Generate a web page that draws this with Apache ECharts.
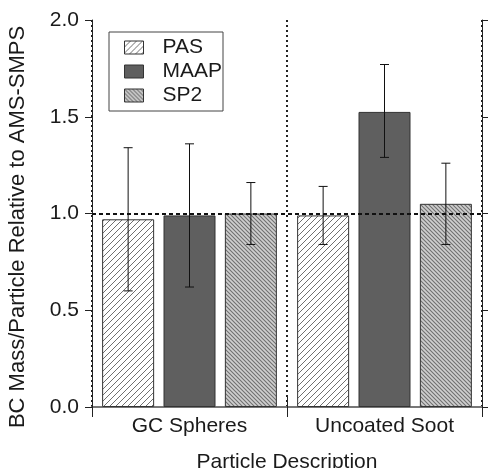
<!DOCTYPE html>
<html><head><meta charset="utf-8">
<script src="https://cdn.jsdelivr.net/npm/echarts@6/dist/echarts.min.js"></script>
<style>html,body{margin:0;padding:0;background:#fff}#c{width:488px;height:468px}</style>
</head><body><div id="c"></div>
<script>
// ---- data ----
const categories = ['GC Spheres', 'Uncoated Soot'];
const seriesNames = ['PAS', 'MAAP', 'SP2'];
const pasValues = [0.97, 0.99];
const maapValues = [0.99, 1.525];
const sp2Values = [1.00, 1.05];
const pasErrLow = [0.60, 0.84];
const pasErrHigh = [1.34, 1.14];
const maapErrLow = [0.62, 1.29];
const maapErrHigh = [1.36, 1.77];
const sp2ErrLow = [0.84, 0.84];
const sp2ErrHigh = [1.16, 1.26];
const yMin = 0, yMax = 2, yInterval = 0.5;
const refValue = 1.0;
const xTitle = 'Particle Description';
const yTitle = 'BC Mass/Particle Relative to AMS-SMPS';

// ---- styles ----
const FONT = "'Liberation Sans', Arial, sans-serif";
const TXT = '#1a1a1a';
const FS = 21;
const BAR_W = 52;
const BAR_GAP = 0.18;

function makePattern(bg, fg, size, dir, lw) {
  const c = document.createElement('canvas');
  c.width = size; c.height = size;
  const g = c.getContext('2d');
  g.fillStyle = bg; g.fillRect(0, 0, size, size);
  g.strokeStyle = fg; g.lineWidth = lw;
  g.beginPath();
  if (dir === '/') {
    for (let k = -1; k <= 1; k++) {
      g.moveTo(k * size - 1, size + 1); g.lineTo(k * size + size + 1, -1);
    }
  } else {
    for (let k = -1; k <= 1; k++) {
      g.moveTo(k * size - 1, -1); g.lineTo(k * size + size + 1, size + 1);
    }
  }
  g.stroke();
  return { image: c, repeat: 'repeat' };
}
const pasFill = makePattern('#ffffff', '#707070', 6, '/', 1);
const maapFill = '#5f5f5f';
const sp2Fill = makePattern('#cfcfcf', '#707070', 4, '\\', 1.1);

const values = [pasValues, maapValues, sp2Values];
const fills = [pasFill, maapFill, sp2Fill];
const errLow = [pasErrLow, maapErrLow, sp2ErrLow];
const errHigh = [pasErrHigh, maapErrHigh, sp2ErrHigh];

const barSeries = seriesNames.map((n, i) => ({
  name: n, type: 'bar', barWidth: BAR_W, barGap: (BAR_GAP * 100) + '%',
  data: values[i],
  itemStyle: { color: fills[i], borderColor: '#333', borderWidth: 1 },
  xAxisIndex: 0, yAxisIndex: 0
}));

const errSeries = seriesNames.map((n, i) => ({
  name: n + ' error', type: 'custom', xAxisIndex: 0, yAxisIndex: 0, z: 10,
  encode: { x: 0, y: [1, 2] },
  data: categories.map((c, k) => [k, errLow[i][k], errHigh[i][k]]),
  renderItem: function (params, api) {
    const ci = api.value(0);
    const lo = api.coord([ci, api.value(1)]);
    const hi = api.coord([ci, api.value(2)]);
    const x = lo[0] + (i - 1) * BAR_W * (1 + BAR_GAP);
    const cap = 4.5;
    const st = { stroke: '#111', lineWidth: 1 };
    return { type: 'group', children: [
      { type: 'line', shape: { x1: x, y1: lo[1], x2: x, y2: hi[1] }, style: st },
      { type: 'line', shape: { x1: x - cap, y1: hi[1], x2: x + cap, y2: hi[1] }, style: st },
      { type: 'line', shape: { x1: x - cap, y1: lo[1], x2: x + cap, y2: lo[1] }, style: st }
    ]};
  },
  markLine: i === 2 ? {
    silent: true, symbol: 'none', label: { show: false },
    lineStyle: { color: '#111', type: [4, 3], width: 2 },
    data: [{ yAxis: refValue }]
  } : undefined
}));

const chart = echarts.init(document.getElementById('c'), null, { renderer: 'canvas' });
chart.setOption({
  animation: false,
  backgroundColor: '#fff',
  textStyle: { fontFamily: FONT, color: TXT },
  grid: { left: 92, right: 6, top: 20, bottom: 61, containLabel: false, outerBoundsMode: 'none' },
  legend: {
    data: seriesNames, orient: 'vertical', left: 109, top: 32,
    padding: [5, 1, 5, 15], itemGap: 3, itemWidth: 19, itemHeight: 13,
    borderColor: '#444', borderWidth: 1, backgroundColor: '#fff',
    textStyle: { fontSize: FS, color: TXT, fontFamily: FONT, padding: [0, 0, 0, 14] },
    itemStyle: { borderColor: '#333', borderWidth: 1 },
    icon: 'rect'
  },
  graphic: [{
    type: 'text', x: 18, y: 227, rotation: Math.PI / 2,
    style: { text: yTitle, fontSize: 22, fontFamily: FONT, fill: TXT, align: 'center', verticalAlign: 'middle' }
  }],
  xAxis: [{
    type: 'category', data: categories, position: 'bottom',
    axisLine: { lineStyle: { color: '#222', width: 1 } },
    axisTick: { show: true, length: 10, alignWithLabel: false, lineStyle: { color: '#222' } },
    axisLabel: { fontSize: FS, margin: 9, color: TXT, fontFamily: FONT },
    name: xTitle, nameLocation: 'middle', nameGap: 45,
    nameTextStyle: { fontSize: FS, color: TXT, fontFamily: FONT },
    splitLine: { show: true, lineStyle: { color: '#222', type: [2, 3], width: 2 } }
  }, {
    type: 'category', data: categories, position: 'top',
    axisLine: { lineStyle: { color: '#777', width: 2 } },
    axisTick: { show: true, length: 10, alignWithLabel: false, lineStyle: { color: '#222' } },
    axisLabel: { show: false }, splitLine: { show: false }
  }],
  yAxis: [{
    type: 'value', min: yMin, max: yMax, interval: yInterval, position: 'left',
    axisLine: { show: true, lineStyle: { color: '#222', width: 1 } },
    axisTick: { show: true, length: 7, lineStyle: { color: '#222' } },
    axisLabel: { fontSize: FS, margin: 13, color: TXT, fontFamily: FONT, formatter: v => v.toFixed(1) },
    splitLine: { show: false }
  }, {
    type: 'value', min: yMin, max: yMax, interval: yInterval, position: 'right',
    axisLine: { show: true, lineStyle: { color: '#222', width: 1 } },
    axisTick: { show: true, length: 6, lineStyle: { color: '#222' } },
    axisLabel: { show: false }, splitLine: { show: false }
  }],
  series: barSeries.concat(errSeries)
});
</script></body></html>
